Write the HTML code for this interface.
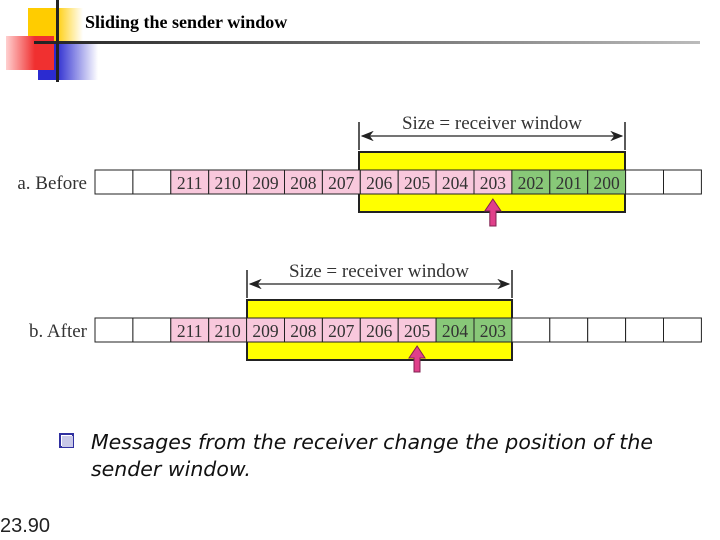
<!DOCTYPE html>
<html><head><meta charset="utf-8"><style>
html,body{margin:0;padding:0;background:#fff;width:720px;height:540px;overflow:hidden}
</style></head><body>
<svg width="720" height="540" xmlns="http://www.w3.org/2000/svg" font-family="Liberation Serif, serif">
<defs>
<linearGradient id="gy" x1="0" x2="1"><stop offset="0.5" stop-color="#ffcc00"/><stop offset="1" stop-color="#fff"/></linearGradient>
<linearGradient id="gr" x1="0" x2="1"><stop offset="0" stop-color="#ffd0d0"/><stop offset="0.6" stop-color="#f03030"/></linearGradient>
<linearGradient id="gb" x1="0" x2="1"><stop offset="0.3" stop-color="#2b2bd0"/><stop offset="1" stop-color="#fff"/></linearGradient>
<linearGradient id="gl" x1="0" x2="1"><stop offset="0" stop-color="#222"/><stop offset="1" stop-color="#bbb"/></linearGradient>
<marker id="ah" markerWidth="10" markerHeight="8" refX="9" refY="4" orient="auto-start-reverse"><path d="M0,0 L10,4 L0,8 L3,4 Z" fill="#222"/></marker>
</defs>
<rect x="28" y="8" width="55" height="35" fill="url(#gy)"/>
<rect x="38" y="44" width="60" height="36" fill="url(#gb)"/>
<rect x="6" y="36" width="48" height="34" fill="url(#gr)"/>
<rect x="34" y="41" width="666" height="3" fill="url(#gl)"/>
<rect x="56" y="0" width="3" height="82" fill="#222"/>
<text x="85" y="28" font-size="18" font-weight="bold">Sliding the sender window</text>

<line x1="359" y1="122" x2="359" y2="150" stroke="#222" stroke-width="1.5"/>
<line x1="625" y1="122" x2="625" y2="150" stroke="#222" stroke-width="1.5"/>
<line x1="362" y1="136" x2="622" y2="136" stroke="#222" stroke-width="1.3" marker-start="url(#ah)" marker-end="url(#ah)"/>
<text x="492" y="129" font-size="19" text-anchor="middle" fill="#333">Size = receiver window</text>
<rect x="359" y="152" width="266" height="60" fill="#ffff00" stroke="#222" stroke-width="2"/>
<text x="87" y="189" font-size="19" text-anchor="end" fill="#333">a. Before</text>

<line x1="247" y1="270" x2="247" y2="298" stroke="#222" stroke-width="1.5"/>
<line x1="512" y1="270" x2="512" y2="298" stroke="#222" stroke-width="1.5"/>
<line x1="250" y1="284" x2="509" y2="284" stroke="#222" stroke-width="1.3" marker-start="url(#ah)" marker-end="url(#ah)"/>
<text x="379" y="277" font-size="19" text-anchor="middle" fill="#333">Size = receiver window</text>
<rect x="247" y="300" width="265" height="60" fill="#ffff00" stroke="#222" stroke-width="2"/>
<text x="87" y="337" font-size="19" text-anchor="end" fill="#333">b. After</text>

<g stroke="#222" stroke-width="1">
<rect x="95" y="170" width="37.9" height="24" fill="#fff"/>
<rect x="132.9" y="170" width="37.9" height="24" fill="#fff"/>
<rect x="170.8" y="170" width="37.9" height="24" fill="#f8c8dc"/>
<rect x="208.7" y="170" width="37.9" height="24" fill="#f8c8dc"/>
<rect x="246.6" y="170" width="37.9" height="24" fill="#f8c8dc"/>
<rect x="284.5" y="170" width="37.9" height="24" fill="#f8c8dc"/>
<rect x="322.4" y="170" width="37.9" height="24" fill="#f8c8dc"/>
<rect x="360.3" y="170" width="37.9" height="24" fill="#f8c8dc"/>
<rect x="398.2" y="170" width="37.9" height="24" fill="#f8c8dc"/>
<rect x="436.1" y="170" width="37.9" height="24" fill="#f8c8dc"/>
<rect x="474" y="170" width="37.9" height="24" fill="#f8c8dc"/>
<rect x="511.9" y="170" width="37.9" height="24" fill="#88c878"/>
<rect x="549.8" y="170" width="37.9" height="24" fill="#88c878"/>
<rect x="587.7" y="170" width="37.9" height="24" fill="#88c878"/>
<rect x="625.6" y="170" width="37.9" height="24" fill="#fff"/>
<rect x="663.5" y="170" width="37.9" height="24" fill="#fff"/>
<rect x="95" y="318" width="37.9" height="24" fill="#fff"/>
<rect x="132.9" y="318" width="37.9" height="24" fill="#fff"/>
<rect x="170.8" y="318" width="37.9" height="24" fill="#f8c8dc"/>
<rect x="208.7" y="318" width="37.9" height="24" fill="#f8c8dc"/>
<rect x="246.6" y="318" width="37.9" height="24" fill="#f8c8dc"/>
<rect x="284.5" y="318" width="37.9" height="24" fill="#f8c8dc"/>
<rect x="322.4" y="318" width="37.9" height="24" fill="#f8c8dc"/>
<rect x="360.3" y="318" width="37.9" height="24" fill="#f8c8dc"/>
<rect x="398.2" y="318" width="37.9" height="24" fill="#f8c8dc"/>
<rect x="436.1" y="318" width="37.9" height="24" fill="#88c878"/>
<rect x="474" y="318" width="37.9" height="24" fill="#88c878"/>
<rect x="511.9" y="318" width="37.9" height="24" fill="#fff"/>
<rect x="549.8" y="318" width="37.9" height="24" fill="#fff"/>
<rect x="587.7" y="318" width="37.9" height="24" fill="#fff"/>
<rect x="625.6" y="318" width="37.9" height="24" fill="#fff"/>
<rect x="663.5" y="318" width="37.9" height="24" fill="#fff"/>
</g>
<g font-size="17.5" fill="#333" text-anchor="middle">
<text x="189.7" y="189">211</text><text x="227.6" y="189">210</text><text x="265.5" y="189">209</text><text x="303.4" y="189">208</text><text x="341.3" y="189">207</text><text x="379.2" y="189">206</text><text x="417.1" y="189">205</text><text x="455" y="189">204</text><text x="492.9" y="189">203</text><text x="530.8" y="189">202</text><text x="568.7" y="189">201</text><text x="606.6" y="189">200</text>
<text x="189.7" y="337">211</text><text x="227.6" y="337">210</text><text x="265.5" y="337">209</text><text x="303.4" y="337">208</text><text x="341.3" y="337">207</text><text x="379.2" y="337">206</text><text x="417.1" y="337">205</text><text x="455" y="337">204</text><text x="492.9" y="337">203</text>
</g>
<path d="M492.9,199 L501,211 L496,211 L496,226 L489.8,226 L489.8,211 L484.8,211 Z" fill="#e0408a" stroke="#802050" stroke-width="1"/>
<path d="M417.1,346 L425,358 L420,358 L420,372 L414,372 L414,358 L409,358 Z" fill="#e0408a" stroke="#802050" stroke-width="1"/>

<rect x="60" y="434" width="13" height="13" fill="#fff" stroke="#3030a0" stroke-width="2"/>
<rect x="62" y="436" width="11" height="11" fill="#c8c8e8"/>
<text x="91" y="449" font-family="DejaVu Sans, sans-serif" font-size="20.5" font-style="italic" fill="#111">Messages from the receiver change the position of the</text>
<text x="91" y="476" font-family="DejaVu Sans, sans-serif" font-size="20.5" font-style="italic" fill="#111">sender window.</text>
<text x="0" y="532" font-family="Liberation Sans, sans-serif" font-size="20" fill="#222">23.90</text>
</svg>
</body></html>
